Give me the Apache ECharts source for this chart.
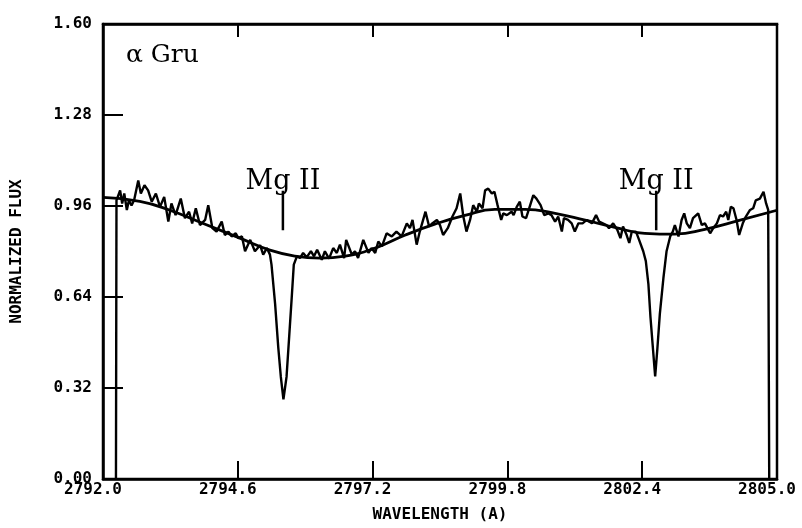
<!DOCTYPE html>
<html>
<head>
<meta charset="utf-8">
<script src="https://cdn.jsdelivr.net/npm/echarts@6/dist/echarts.min.js"></script>
<style>
html,body{margin:0;padding:0;background:#fff;}
#chart{width:802px;height:528px;}
</style>
</head>
<body>
<div id="chart"></div>
<script>
// ---- data ----
const xTickValues = [2792.0, 2794.6, 2797.2, 2799.8, 2802.4, 2805.0];
const xTickLabels = ['2792.0', '2794.6', '2797.2', '2799.8', '2802.4', '2805.0'];
const yTickValues = [0.00, 0.32, 0.64, 0.96, 1.28, 1.60];
const yTickLabels = ['0.00', '0.32', '0.64', '0.96', '1.28', '1.60'];

const specWave = [
  2792.25, 2792.26, 2792.33, 2792.37, 2792.41, 2792.46, 2792.50, 2792.55, 2792.60, 2792.68,
  2792.73, 2792.80, 2792.87, 2792.94, 2793.02, 2793.10, 2793.18, 2793.26, 2793.32, 2793.40,
  2793.50, 2793.58, 2793.66, 2793.72, 2793.79, 2793.87, 2793.97, 2794.03, 2794.11, 2794.19,
  2794.29, 2794.35, 2794.42, 2794.48, 2794.56, 2794.61, 2794.68, 2794.74, 2794.84, 2794.93,
  2795.03, 2795.09, 2795.16, 2795.22, 2795.25, 2795.32, 2795.38, 2795.43, 2795.48, 2795.54,
  2795.59, 2795.64, 2795.68, 2795.74, 2795.80, 2795.86, 2795.93, 2796.01, 2796.07, 2796.13,
  2796.22, 2796.28, 2796.36, 2796.44, 2796.51, 2796.57, 2796.65, 2796.69, 2796.80, 2796.86,
  2796.92, 2797.02, 2797.12, 2797.18, 2797.25, 2797.31, 2797.38, 2797.47, 2797.57, 2797.66,
  2797.76, 2797.86, 2797.92, 2797.97, 2798.05, 2798.11, 2798.22, 2798.29, 2798.35, 2798.44,
  2798.50, 2798.56, 2798.65, 2798.74, 2798.82, 2798.89, 2798.95, 2799.01, 2799.08, 2799.14,
  2799.21, 2799.25, 2799.32, 2799.37, 2799.43, 2799.50, 2799.55, 2799.61, 2799.68, 2799.72,
  2799.79, 2799.88, 2799.92, 2799.98, 2800.04, 2800.09, 2800.16, 2800.22, 2800.30, 2800.36,
  2800.44, 2800.51, 2800.59, 2800.65, 2800.72, 2800.78, 2800.85, 2800.89, 2800.97, 2801.04,
  2801.10, 2801.17, 2801.25, 2801.33, 2801.43, 2801.51, 2801.57, 2801.64, 2801.71, 2801.76,
  2801.84, 2801.92, 2801.98, 2802.03, 2802.10, 2802.15, 2802.20, 2802.28, 2802.34, 2802.42,
  2802.47, 2802.52, 2802.56, 2802.61, 2802.65, 2802.69, 2802.74, 2802.81, 2802.87, 2802.94,
  2802.99, 2803.03, 2803.10, 2803.16, 2803.21, 2803.26, 2803.32, 2803.38, 2803.48, 2803.55,
  2803.61, 2803.71, 2803.77, 2803.84, 2803.90, 2803.96, 2804.02, 2804.06, 2804.11, 2804.16,
  2804.22, 2804.27, 2804.34, 2804.40, 2804.48, 2804.54, 2804.59, 2804.67, 2804.74, 2804.79,
  2804.83, 2804.85
];
const specFlux = [
  0.000, 0.980, 1.015, 0.969, 1.004, 0.946, 0.980, 0.962, 0.980, 1.050,
  1.004, 1.033, 1.015, 0.975, 1.004, 0.957, 0.992, 0.905, 0.969, 0.928,
  0.986, 0.917, 0.940, 0.899, 0.952, 0.893, 0.911, 0.963, 0.882, 0.870,
  0.905, 0.858, 0.870, 0.853, 0.864, 0.847, 0.853, 0.801, 0.841, 0.801,
  0.822, 0.789, 0.812, 0.789, 0.754, 0.615, 0.464, 0.359, 0.280, 0.359,
  0.498, 0.638, 0.754, 0.783, 0.777, 0.795, 0.780, 0.801, 0.783, 0.806,
  0.771, 0.801, 0.775, 0.812, 0.795, 0.824, 0.777, 0.841, 0.789, 0.801,
  0.777, 0.841, 0.795, 0.812, 0.795, 0.835, 0.818, 0.864, 0.853, 0.870,
  0.853, 0.899, 0.882, 0.911, 0.824, 0.870, 0.940, 0.888, 0.899, 0.911,
  0.893, 0.858, 0.882, 0.923, 0.952, 1.004, 0.923, 0.870, 0.911, 0.963,
  0.940, 0.969, 0.952, 1.015, 1.021, 1.004, 1.010, 0.963, 0.911, 0.934,
  0.928, 0.940, 0.928, 0.957, 0.975, 0.923, 0.917, 0.952, 0.998, 0.986,
  0.963, 0.928, 0.934, 0.928, 0.905, 0.923, 0.870, 0.917, 0.911, 0.899,
  0.870, 0.899, 0.899, 0.911, 0.899, 0.928, 0.905, 0.899, 0.893, 0.882,
  0.899, 0.876, 0.847, 0.888, 0.858, 0.830, 0.870, 0.870, 0.841, 0.801,
  0.766, 0.684, 0.568, 0.452, 0.361, 0.452, 0.580, 0.708, 0.801, 0.853,
  0.870, 0.893, 0.853, 0.911, 0.934, 0.899, 0.882, 0.917, 0.934, 0.893,
  0.899, 0.864, 0.882, 0.899, 0.928, 0.923, 0.940, 0.911, 0.957, 0.952,
  0.911, 0.858, 0.899, 0.923, 0.946, 0.952, 0.980, 0.986, 1.010, 0.969,
  0.946, 0.000
];

const contWave = [2792.00, 2792.71, 2793.29, 2793.97, 2794.64, 2795.22, 2795.70, 2796.19, 2796.67, 2797.25,
  2797.82, 2798.40, 2798.98, 2799.56, 2800.14, 2800.72, 2801.30, 2801.87, 2802.45, 2803.03,
  2803.61, 2804.29, 2805.00];
const contFlux = [0.990, 0.976, 0.945, 0.896, 0.847, 0.805, 0.784, 0.777, 0.784, 0.812,
  0.857, 0.896, 0.927, 0.948, 0.948, 0.934, 0.910, 0.885, 0.864, 0.861,
  0.878, 0.910, 0.945];

const lineNames = ['Mg II', 'Mg II'];
const lineWave = [2795.47, 2802.67];
const lineMarkLow = [0.875, 0.875];
const lineMarkHigh = [1.014, 1.014];

const titleText = 'α Gru';
const xName = 'WAVELENGTH (A)';
const yName = 'NORMALIZED FLUX';

// ---- chart ----
const zip = (a, b) => a.map((v, i) => [v, b[i]]);
const labelFor = (vals, labs) => (v) => {
  let best = 0;
  vals.forEach((t, i) => { if (Math.abs(t - v) < Math.abs(vals[best] - v)) best = i; });
  return labs[best];
};

const axisFont = { fontFamily: 'DejaVu Sans Mono', fontWeight: 'bold', fontSize: 16, color: '#000' };
const typeFont = 'DejaVu Serif';

const series = [
  {
    type: 'line', data: zip(specWave, specFlux), showSymbol: false, symbol: 'none',
    lineStyle: { color: '#000', width: 2.4 }, z: 3, animation: false
  },
  {
    type: 'line', data: zip(contWave, contFlux), showSymbol: false, symbol: 'none', smooth: true,
    lineStyle: { color: '#000', width: 2.8 }, z: 3, animation: false
  }
];
lineWave.forEach((w, i) => {
  series.push({
    type: 'line', data: [[w, lineMarkLow[i]], [w, lineMarkHigh[i]]], showSymbol: false, symbol: 'none',
    lineStyle: { color: '#000', width: 2.5 }, animation: false
  });
  series.push({
    type: 'scatter', data: [[w, lineMarkHigh[i]]], symbolSize: 0, animation: false,
    itemStyle: { color: '#000', opacity: 1 },
    label: {
      show: true, position: 'top', distance: -5, formatter: lineNames[i],
      fontFamily: typeFont, fontSize: 27, color: '#000', opacity: 1
    }
  });
});

const chart = echarts.init(document.getElementById('chart'), null, { renderer: 'canvas' });
chart.setOption({
  animation: false,
  backgroundColor: '#fff',
  title: {
    text: titleText, left: 121, top: 38,
    textStyle: { fontFamily: typeFont, fontSize: 25, fontWeight: 'normal', color: '#000' }
  },
  grid: { left: 103, right: 25, top: 24, bottom: 45, show: true, borderColor: '#000', borderWidth: 2.5 },
  xAxis: [
    {
      type: 'value', min: 2792, max: 2805, interval: 2.6,
      name: xName, nameLocation: 'middle', nameGap: 28,
      nameTextStyle: Object.assign({}, axisFont, { fontSize: 16 }),
      axisLine: { show: true, lineStyle: { color: '#000', width: 2.5 } },
      axisTick: { show: true, inside: true, length: 18, lineStyle: { color: '#000', width: 2 }, customValues: xTickValues },
      axisLabel: Object.assign({ show: true, margin: 3, padding: [0, 20, 0, 0], customValues: xTickValues,
        formatter: labelFor(xTickValues, xTickLabels) }, axisFont),
      splitLine: { show: false }
    },
    {
      type: 'value', position: 'top', min: 2792, max: 2805, interval: 2.6,
      axisLine: { show: true, lineStyle: { color: '#000', width: 2.5 } },
      axisTick: { show: true, inside: true, length: 13, lineStyle: { color: '#000', width: 2 }, customValues: xTickValues },
      axisLabel: { show: false }, splitLine: { show: false }
    }
  ],
  yAxis: [
    {
      type: 'value', min: 0, max: 1.6, interval: 0.32,
      name: yName, nameLocation: 'middle', nameGap: 78,
      nameTextStyle: Object.assign({}, axisFont, { fontSize: 16 }),
      axisLine: { show: true, lineStyle: { color: '#000', width: 2.5 } },
      axisTick: { show: true, inside: true, length: 20, lineStyle: { color: '#000', width: 2 }, customValues: yTickValues },
      axisLabel: Object.assign({ show: true, margin: 11, padding: [0, 0, 8, 0], customValues: yTickValues,
        formatter: labelFor(yTickValues, yTickLabels) }, axisFont),
      splitLine: { show: false }
    }
  ],
  series: series
});
</script>
</body>
</html>
